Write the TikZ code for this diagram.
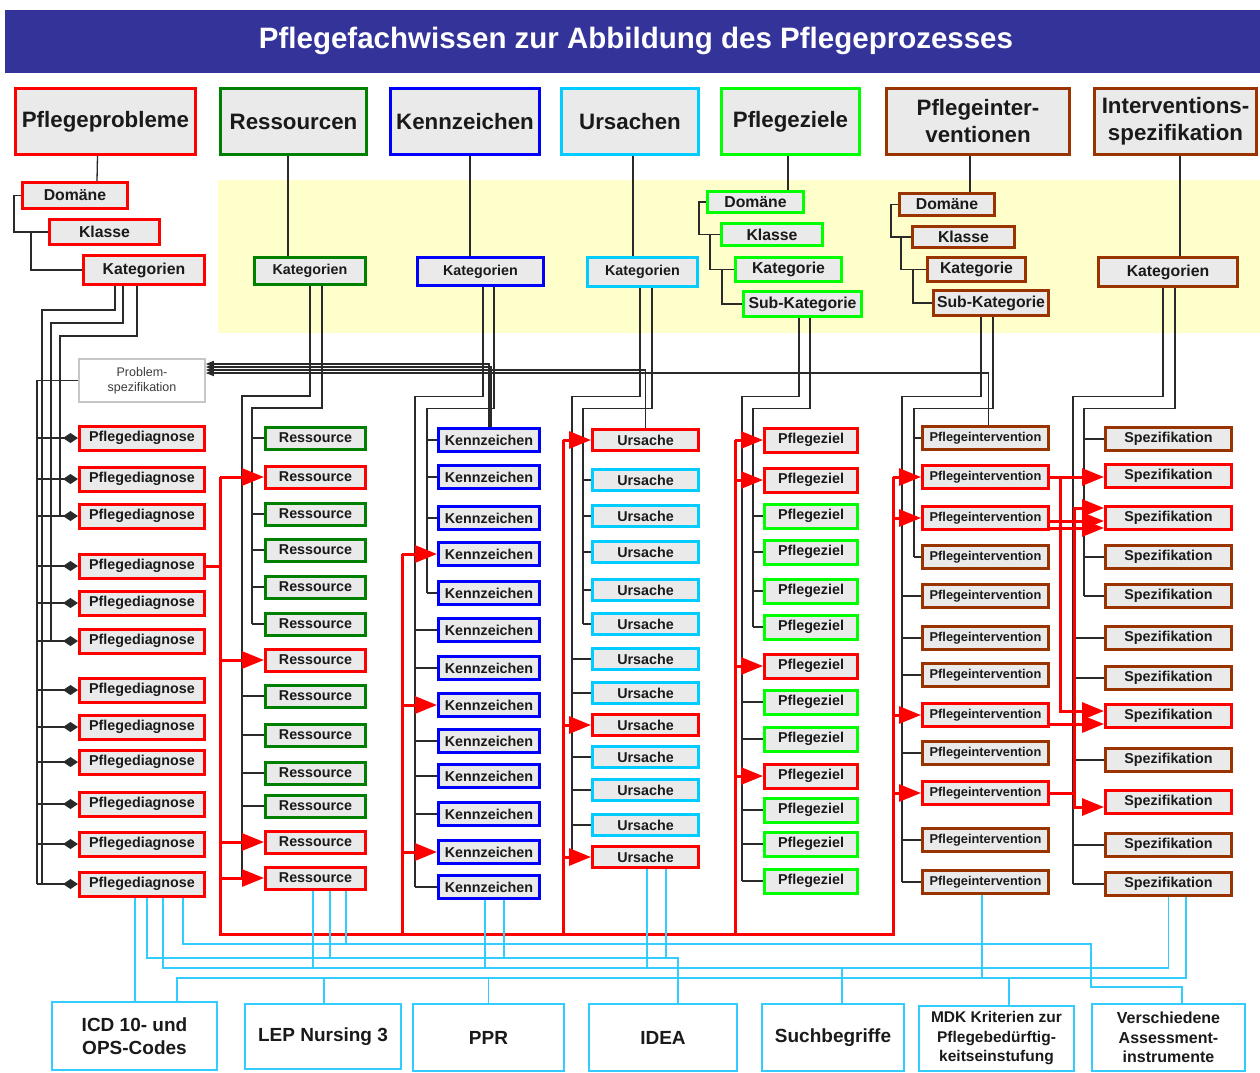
\documentclass[tikz,border=0pt]{standalone}
\usepackage{fontspec}
\setmainfont{Liberation Sans}
\usetikzlibrary{arrows.meta}
\definecolor{cRed}{HTML}{FF0000}
\definecolor{cGrn}{HTML}{008000}
\definecolor{cBlu}{HTML}{0000FF}
\definecolor{cCya}{HTML}{00CCFF}
\definecolor{cLim}{HTML}{00FF00}
\definecolor{cBrn}{HTML}{993300}
\definecolor{cLine}{HTML}{33CCFF}
\definecolor{cHdr}{HTML}{333399}
\definecolor{cYel}{HTML}{FFFFCC}
\definecolor{cFill}{HTML}{EAEAEA}
\definecolor{cTxt}{HTML}{1A1A1A}
\definecolor{cTk}{HTML}{2A2A2A}
\tikzset{
 bx/.style={draw=#1, fill=cFill, line width=3pt, inner sep=0pt, text=cTxt, align=center},
 fa/.style={font=\bfseries\fontsize{14.3}{17}\selectfont},
 fb/.style={font=\bfseries\fontsize{15.8}{19}\selectfont},
 fh/.style={font=\bfseries\fontsize{22.3}{27}\selectfont},
 fpi/.style={font=\bfseries\fontsize{12.8}{15}\selectfont},
 bt/.style={draw=cLine, fill=white, line width=2pt, inner sep=0pt, text=cTxt, align=center},
 tk/.style={draw=cTk, line width=1.3pt},
 rl/.style={draw=cRed, line width=3pt},
 ra/.style={rl, -{Triangle[length=22pt,width=17pt]}},
 dia/.style={tk, -{Diamond[length=15pt,width=10pt]}},
 pa/.style={tk, -{Triangle[length=8pt,width=6pt]}},
 cy/.style={draw=cLine, line width=1.5pt},
}
\begin{document}
\begin{tikzpicture}[x=1pt,y=-1pt]
\useasboundingbox (0,0) rectangle (1260,1072);
\fill[white] (0,0) rectangle (1260,1072);
\fill[cHdr] (5,10) rectangle (1260,73);
\node[text=white, font=\bfseries\fontsize{29.5}{34}\selectfont] (title) at (636,41) {Pflegefachwissen zur Abbildung des Pflegeprozesses};
\fill[cYel] (218,180) rectangle (1260,333);

% headers
\node[bx=cRed, fh, minimum width=180pt, minimum height=66pt] (hpp) at (105.5,121.5) {Pflegeprobleme};
\node[bx=cGrn, fh, minimum width=146pt, minimum height=66pt] (hrs) at (293.5,121.5) {Ressourcen};
\node[bx=cBlu, fh, minimum width=149pt, minimum height=66pt] (hkz) at (465,121.5) {Kennzeichen};
\node[bx=cCya, fh, minimum width=137pt, minimum height=66pt] (hur) at (630,121.5) {Ursachen};
\node[bx=cLim, fh, minimum width=138pt, minimum height=66pt] (hpz) at (790.5,121.5) {Pflegeziele};
\node[bx=cBrn, fh, minimum width=183pt, minimum height=66pt] (hpi) at (978,121.5) {Pflegeinter-\\ventionen};
\node[bx=cBrn, fh, minimum width=162pt, minimum height=66pt] (hsp) at (1175.5,121.5) {Interventions-\\spezifikation};

% ---------- Pflegeprobleme column ----------
\node[bx=cRed, fb, minimum width=105pt, minimum height=26pt] (pdom) at (75,195.5) {Domäne};
\node[bx=cRed, fb, minimum width=110pt, minimum height=25pt] (pkla) at (104.5,232) {Klasse};
\node[bx=cRed, fb, minimum width=121pt, minimum height=29pt] (pkat) at (144,270) {Kategorien};
\draw[tk] ([xshift=-8pt]hpp.south) -- ([xshift=22pt]pdom.north);
\draw[tk] (pdom.west) -- ++(-7,0) |- (pkla.west);
\draw[tk] ([xshift=-17pt]pkla.west) |- (pkat.west);
\node[draw=gray!45, line width=1.5pt, fill=white, minimum width=126pt, minimum height=43pt, align=center, inner sep=0pt, font=\fontsize{12.5}{15}\selectfont, text=cTxt!85] (pspec) at (142,380.5) {Problem-\\spezifikation};
\foreach \yy [count=\i] in {438,479,516,566,603,641,690,727,762,804,844,884}
 \node[bx=cRed, fa, minimum width=125pt, minimum height=24pt] (pd\i) at (142,\yy) {Pflegediagnose};
\coordinate (bP0) at (37,0); \coordinate (bP1) at (42,0);
\coordinate (bP2) at (51,0); \coordinate (bP3) at (60,0);
\draw[tk] (pspec.west) -| (pd12.west -| bP0);
\draw[tk] ([xshift=-29pt]pkat.south) -- ++(0,24) -| (pd12.west -| bP1);
\draw[tk] ([xshift=-21pt]pkat.south) -- ++(0,37) -| (pd6.west -| bP2);
\draw[tk] ([xshift=-7pt]pkat.south) -- ++(0,50) -| (pd3.west -| bP3);
\foreach \i in {1,...,12} \draw[dia] (pd\i.west -| bP0) -- (pd\i.west);

% ---------- Ressourcen ----------
\node[bx=cGrn, fa, minimum width=111pt, minimum height=27pt] (rkat) at (310,271) {Kategorien};
\draw[tk] ([xshift=-5.5pt]hrs.south) -- ([xshift=-22pt]rkat.north);
\foreach \yy/\cc [count=\i] in {438/cGrn,477/cRed,514/cGrn,550/cGrn,587/cGrn,624/cGrn,660/cRed,696/cGrn,735/cGrn,773/cGrn,806/cGrn,842/cRed,878/cRed}
 \node[bx=\cc, fa, minimum width=100pt, minimum height=22pt] (rs\i) at (315.5,\yy) {Ressource};
\coordinate (bR1) at (242,0); \coordinate (bR2) at (252,0);
\draw[tk] (rkat.south) -- ++(0,110) -| (rs13.west -| bR1);
\draw[tk] ([xshift=12pt]rkat.south) -- ++(0,122) -| (rs6.west -| bR2);
\foreach \i in {1,3,4,5,6} \draw[tk] (rs\i.west -| bR2) -- (rs\i.west);
\foreach \i in {8,9,10,11} \draw[tk] (rs\i.west -| bR1) -- (rs\i.west);

% ---------- Kennzeichen ----------
\node[bx=cBlu, fa, minimum width=126pt, minimum height=28pt] (kkat) at (480.5,271.5) {Kategorien};
\draw[tk] ([xshift=5pt]hkz.south) -- ([xshift=-10.5pt]kkat.north);
\foreach \yy [count=\i] in {440,477,518,554,593,630,668,705,741,776,814,852,887}
 \node[bx=cBlu, fa, minimum width=101pt, minimum height=23pt] (kz\i) at (489,\yy) {Kennzeichen};
\coordinate (bK1) at (415,0); \coordinate (bK2) at (427,0);
\draw[tk] ([xshift=2.5pt]kkat.south) -- ++(0,109.5) -| (kz13.west -| bK1);
\draw[tk] ([xshift=13.5pt]kkat.south) -- ++(0,121.5) -| (kz5.west -| bK2);
\foreach \i in {1,2,3,5} \draw[tk] (kz\i.west -| bK2) -- (kz\i.west);
\foreach \i in {6,7,9,10,11,13} \draw[tk] (kz\i.west -| bK1) -- (kz\i.west);

% ---------- Ursachen ----------
\node[bx=cCya, fa, minimum width=110pt, minimum height=29pt] (ukat) at (642.5,272) {Kategorien};
\draw[tk] ([xshift=3pt]hur.south) -- ([xshift=-9.5pt]ukat.north);
\foreach \yy/\cc [count=\i] in {440/cRed,480/cCya,516/cCya,552/cCya,590/cCya,624/cCya,659/cCya,693/cCya,725/cRed,757/cCya,790/cCya,825/cCya,857/cRed}
 \node[bx=\cc, fa, minimum width=106pt, minimum height=21pt] (ur\i) at (645.5,\yy) {Ursache};
\coordinate (bU1) at (572,0); \coordinate (bU2) at (583,0);
\draw[tk] ([xshift=-2.5pt]ukat.south) -- ++(0,108.5) -| (ur13.west -| bU1);
\draw[tk] ([xshift=9.5pt]ukat.south) -- ++(0,120.5) -| (ur6.west -| bU2);
\foreach \i in {2,3,4,5,6} \draw[tk] (ur\i.west -| bU2) -- (ur\i.west);
\foreach \i in {7,8,10,11,12} \draw[tk] (ur\i.west -| bU1) -- (ur\i.west);

% ---------- Pflegeziele ----------
\node[bx=cLim, fb, minimum width=96pt, minimum height=21pt] (zdom) at (755.5,202) {Domäne};
\node[bx=cLim, fb, minimum width=101pt, minimum height=22pt] (zkla) at (772,234.5) {Klasse};
\node[bx=cLim, fb, minimum width=106pt, minimum height=24pt] (zkat) at (788.5,269.5) {Kategorie};
\node[bx=cLim, fb, minimum width=118pt, minimum height=25pt] (zsub) at (802.5,304) {Sub-Kategorie};
\draw[tk] ([xshift=-2.5pt]hpz.south) -- ([xshift=32.5pt]zdom.north);
\draw[tk] (zdom.west) -- ++(-7,0) |- (zkla.west);
\draw[tk] ([xshift=-10pt]zkla.west) |- (zkat.west);
\draw[tk] ([xshift=-12pt]zkat.west) |- (zsub.west);
\foreach \yy/\cc [count=\i] in {440/cRed,480/cRed,516/cLim,552/cLim,591/cLim,627/cLim,666/cRed,702/cLim,739/cLim,776/cRed,810/cLim,844/cLim,881/cLim}
 \node[bx=\cc, fa, minimum width=93pt, minimum height=24pt] (pz\i) at (811,\yy) {Pflegeziel};
\coordinate (bZ1) at (742,0); \coordinate (bZ2) at (753,0);
\draw[tk] ([xshift=-3.5pt]zsub.south) -- ++(0,78.5) -| (pz13.west -| bZ1);
\draw[tk] ([xshift=7.5pt]zsub.south) -- ++(0,90.5) -| (pz6.west -| bZ2);
\foreach \i in {3,4,5,6} \draw[tk] (pz\i.west -| bZ2) -- (pz\i.west);
\foreach \i in {8,9,11,12,13} \draw[tk] (pz\i.west -| bZ1) -- (pz\i.west);

% ---------- Pflegeinterventionen ----------
\node[bx=cBrn, fb, minimum width=95pt, minimum height=22pt] (idom) at (947,204.5) {Domäne};
\node[bx=cBrn, fb, minimum width=102pt, minimum height=21pt] (ikla) at (963.5,237) {Klasse};
\node[bx=cBrn, fb, minimum width=98pt, minimum height=24pt] (ikat) at (976.5,269.5) {Kategorie};
\node[bx=cBrn, fb, minimum width=115pt, minimum height=25pt] (isub) at (991,303) {Sub-Kategorie};
\draw[tk] ([xshift=-8pt]hpi.south) -- ([xshift=23pt]idom.north);
\draw[tk] (idom.west) -- ++(-7,0) |- (ikla.west);
\draw[tk] ([xshift=-10pt]ikla.west) |- (ikat.west);
\draw[tk] ([xshift=-13pt]ikat.west) |- (isub.west);
\foreach \yy/\cc [count=\i] in {438/cBrn,477/cRed,518/cRed,557/cBrn,596/cBrn,638/cBrn,675/cBrn,715/cRed,753/cBrn,793/cRed,840/cBrn,882/cBrn}
 \node[bx=\cc, fpi, minimum width=126pt, minimum height=23pt] (pi\i) at (985.5,\yy) {Pflegeintervention};
\coordinate (bI1) at (902,0); \coordinate (bI2) at (914,0);
\draw[tk] ([xshift=-10pt]isub.south) -- ++(0,79.5) -| (pi12.west -| bI1);
\draw[tk] ([xshift=2pt]isub.south) -- ++(0,91.5) -| (pi4.west -| bI2);
\foreach \i in {1,4} \draw[tk] (pi\i.west -| bI2) -- (pi\i.west);
\foreach \i in {5,6,7,9,11,12} \draw[tk] (pi\i.west -| bI1) -- (pi\i.west);

% ---------- Interventionsspezifikation ----------
\node[bx=cBrn, fb, minimum width=139pt, minimum height=29pt] (skat) at (1168,272) {Kategorien};
\draw[tk] ([xshift=4.5pt]hsp.south) -- ([xshift=12pt]skat.north);
\foreach \yy/\cc [count=\i] in {439/cBrn,476/cRed,518/cRed,557/cBrn,596/cBrn,638/cBrn,678/cBrn,716/cRed,760/cBrn,802/cRed,845/cBrn,884/cBrn}
 \node[bx=\cc, fa, minimum width=126pt, minimum height=23pt] (sp\i) at (1168.5,\yy) {Spezifikation};
\coordinate (bS1) at (1073,0); \coordinate (bS2) at (1084,0);
\draw[tk] ([xshift=-5pt]skat.south) -- ++(0,108.5) -| (sp12.west -| bS1);
\draw[tk] ([xshift=7pt]skat.south) -- ++(0,120.5) -| (sp5.west -| bS2);
\foreach \i in {1,4,5} \draw[tk] (sp\i.west -| bS2) -- (sp\i.west);
\foreach \i in {6,7,9,11,12} \draw[tk] (sp\i.west -| bS1) -- (sp\i.west);

% ---------- links to Problemspezifikation ----------
\draw[pa] (kz1.north) |- ([yshift=16.5pt]pspec.east);
\draw[pa] ([xshift=2pt]kz1.north) |- ([yshift=13.5pt]pspec.east);
\draw[pa] (ur1.north) |- ([yshift=10.5pt]pspec.east);
\draw[pa] ([xshift=3pt]pi1.north) |- ([yshift=7.5pt]pspec.east);

% ---------- red network ----------
\coordinate (rT1) at (220,0); \coordinate (rT2) at (402,0);
\coordinate (rT3) at (563,0); \coordinate (rT4) at (735,0);
\coordinate (rT5) at (893,0); \coordinate (rB) at (0,934);
\draw[rl] (pd4.east) -- (pd4.east -| rT1);
\draw[rl] (rs2.west -| rT1) -- (rT1 |- rB) -- (rT5 |- rB) -- (pi2.west -| rT5);
\draw[rl] (kz4.west -| rT2) -- (rT2 |- rB);
\draw[rl] (ur1.west -| rT3) -- (rT3 |- rB);
\draw[rl] (pz1.west -| rT4) -- (rT4 |- rB);
\foreach \n in {rs2,rs7,rs12,rs13} \draw[ra] (\n.west -| rT1) -- (\n.west);
\foreach \n in {kz4,kz8,kz12} \draw[ra] (\n.west -| rT2) -- (\n.west);
\foreach \n in {ur1,ur9,ur13} \draw[ra] (\n.west -| rT3) -- (\n.west);
\foreach \n in {pz1,pz2,pz7,pz10} \draw[ra] (\n.west -| rT4) -- (\n.west);
\foreach \n in {pi2,pi3,pi8,pi10} \draw[ra] (\n.west -| rT5) -- (\n.west);
\draw[ra] (pi2.east) -- (pi2.east -| sp2.west);
\draw[ra] (pi2.east) -- ++(10,0) |- ([yshift=5pt]sp8.west);
\draw[ra] ([yshift=-3pt]pi3.east) -- ([yshift=-3pt]pi3.east -| sp3.west);
\draw[ra] ([yshift=-10pt]pi3.east) -- ([yshift=-10pt]pi3.east -| sp3.west);
\draw[rl] (pi10.east) -- ++(24.5,0) coordinate (rJ);
\draw[ra] (rJ) |- ([yshift=10pt]sp3.west);
\draw[ra] (rJ) |- ([yshift=-5pt]sp10.west);
\draw[ra] ([yshift=-9pt]pi8.east) -- ([yshift=-9pt]pi8.east -| sp8.west);

% ---------- bottom sources ----------
\node[bt, minimum width=165pt, minimum height=68pt, font=\bfseries\fontsize{19}{23}\selectfont] (icd) at (134.5,1036) {ICD 10- und\\OPS-Codes};
\node[bt, minimum width=156pt, minimum height=65pt, font=\bfseries\fontsize{19}{23}\selectfont] (lep) at (323,1036.5) {LEP Nursing 3};
\node[bt, minimum width=151pt, minimum height=67pt, font=\bfseries\fontsize{19}{23}\selectfont] (ppr) at (488.5,1037.5) {PPR};
\node[bt, minimum width=148pt, minimum height=67pt, font=\bfseries\fontsize{19}{23}\selectfont] (idea) at (663,1037.5) {IDEA};
\node[bt, minimum width=142pt, minimum height=67pt, font=\bfseries\fontsize{19}{23}\selectfont] (such) at (833,1037.5) {Suchbegriffe};
\node[bt, minimum width=155pt, minimum height=65pt, font=\bfseries\fontsize{15.5}{19.5}\selectfont] (mdk) at (996.5,1038.5) {MDK Kriterien zur\\Pflegebedürftig-\\keitseinstufung};
\node[bt, minimum width=153pt, minimum height=67pt, font=\bfseries\fontsize{16}{19.5}\selectfont] (vas) at (1168.5,1037.5) {Verschiedene\\Assessment-\\instrumente};

% ---------- cyan links ----------
\draw[cy] ([xshift=-7pt]pd12.south) -- ([xshift=0.5pt]icd.north);
\draw[cy] ([xshift=41pt]pd12.south) |- (1091,944) |- (1182,987) -- ([xshift=13.5pt]vas.north);
\draw[cy] ([xshift=30.5pt]rs13.south) -- (346,944);
\draw[cy] ([xshift=5pt]pd12.south) |- (678,958) -- ([xshift=15pt]idea.north);
\draw[cy] ([xshift=14.5pt]rs13.south) -- (330,958);
\draw[cy] ([xshift=15pt]kz13.south) -- (504,958);
\draw[cy] ([xshift=20.5pt]ur13.south) -- (666,958);
\draw[cy] ([xshift=21pt]pd12.south) |- (1168.5,968) -- (sp12.south);
\draw[cy] ([xshift=-2.5pt]rs13.south) -- (313,968);
\draw[cy] ([xshift=-4pt]kz13.south) -- (485,968);
\draw[cy] ([xshift=1.5pt]ur13.south) -- (647,968);
\draw[cy] (842,968) -- ([xshift=9pt]such.north);
\draw[cy] ([xshift=42.5pt]icd.north) |- (1186,978) -- ([xshift=17.5pt]sp12.south);
\draw[cy] (324,978) -- ([xshift=1pt]lep.north);
\draw[cy] (488.5,978) -- (ppr.north);
\draw[cy] (1009,978) -- ([xshift=12.5pt]mdk.north);
\draw[cy] ([xshift=-3.5pt]pi12.south) -- (982,978);
\end{tikzpicture}
\end{document}
